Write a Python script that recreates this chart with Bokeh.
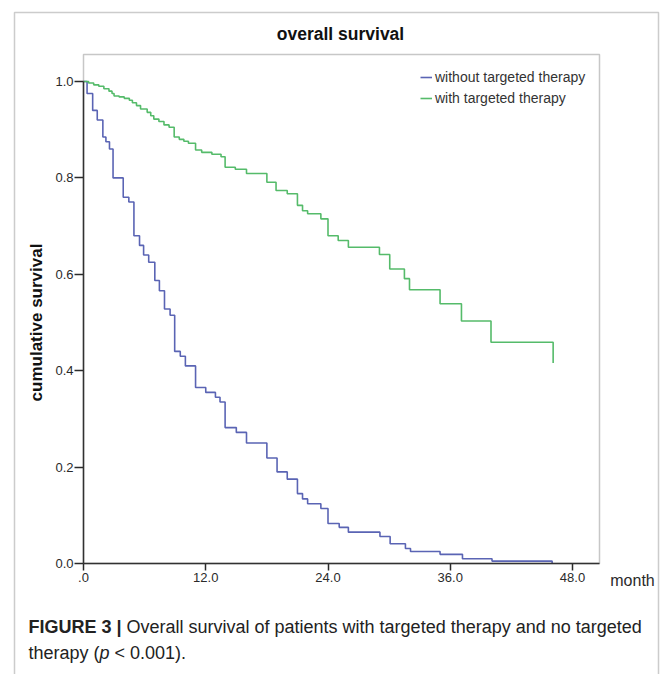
from bokeh.plotting import figure
from bokeh.models import (Label, BoxAnnotation, Legend, LegendItem, FixedTicker, Range1d,
                          PrintfTickFormatter, LinearAxis)
from bokeh.embed import file_html
from bokeh.resources import INLINE

# ---------------- data ----------------
months_without = [0, 0.35, 0.9, 1.35, 1.9, 2.2, 2.55, 2.9, 3.9, 4.45, 4.95, 5.5, 5.9, 6.4, 7.0,
                  7.45, 7.95, 8.5, 8.95, 9.5, 10.0, 11.0, 12.0, 12.95, 13.4, 13.9, 15.0, 16.0,
                  18.0, 19.0, 20.0, 21.0, 21.5, 22.0, 23.3, 24.0, 25.1, 26.0, 29.1, 30.1, 31.6,
                  32.1, 35.0, 37.2, 40.1, 46.0]
surv_without = [1.0, 0.975, 0.94, 0.92, 0.885, 0.875, 0.86, 0.80, 0.76, 0.75, 0.68, 0.66, 0.64,
                0.625, 0.587, 0.566, 0.528, 0.515, 0.44, 0.43, 0.41, 0.365, 0.355, 0.345, 0.335,
                0.282, 0.272, 0.25, 0.219, 0.19, 0.175, 0.145, 0.134, 0.124, 0.114, 0.083, 0.075,
                0.065, 0.056, 0.041, 0.031, 0.025, 0.019, 0.01, 0.005, 0.0]

months_with = [0, 0.5, 1.0, 1.5, 2.0, 2.5, 2.8, 3.0, 3.5, 4.0, 4.5, 4.8, 5.2, 5.6, 6.25, 6.6, 6.9,
               7.4, 7.9, 8.4, 8.9, 9.4, 9.85, 10.3, 11.0, 11.6, 12.6, 13.5, 13.9, 14.9, 16.0,
               18.0, 18.9, 20.0, 21.0, 21.5, 22.0, 23.3, 24.0, 25.0, 26.0, 29.05, 30.06, 31.5,
               32.0, 35.0, 37.1, 40.0, 46.1]
surv_with = [1.0, 0.997, 0.993, 0.99, 0.985, 0.98, 0.975, 0.97, 0.968, 0.965, 0.961, 0.956, 0.95,
             0.943, 0.936, 0.929, 0.922, 0.917, 0.91, 0.905, 0.885, 0.88, 0.876, 0.872, 0.858,
             0.853, 0.849, 0.844, 0.822, 0.818, 0.809, 0.791, 0.774, 0.767, 0.743, 0.732, 0.7255,
             0.715, 0.68, 0.67, 0.656, 0.641, 0.611, 0.591, 0.568, 0.539, 0.503, 0.459, 0.416]

series_labels = ["without targeted therapy", "with targeted therapy"]
x_ticks = [0, 12, 24, 36, 48]
x_tick_labels = [".0", "12.0", "24.0", "36.0", "48.0"]
y_ticks = [0.0, 0.2, 0.4, 0.6, 0.8, 1.0]

title_text = "overall survival"
y_title = "cumulative survival"
x_title = "month"
caption_bold = "FIGURE 3 |"
caption_1 = "Overall survival of patients with targeted therapy and no targeted"
caption_2a = "therapy ("
caption_2b = "p"
caption_2c = "< 0.001)."

# ---------------- layout (pixel geometry of the page) ----------------
W, H = 669, 674
PX0, PX48 = 83, 572          # pixel x of month 0 and month 48
PY0, PY1 = 563, 81           # pixel y of survival 0.0 and 1.0
KX = (PX48 - PX0) / 48.0
KY = (PY0 - PY1) / 1.0
BOX_RIGHT, BOX_TOP = 599, 54
FONT = "Liberation Sans"
BLUE = "#5a64b4"
GREEN = "#55bb6a"
DARK = "#2a2a2a"


def X(px):
    return (px - PX0) / KX


def Y(py):
    return (PY0 - py) / KY


p = figure(width=W, height=H, output_backend="svg", toolbar_location=None,
           x_range=Range1d(X(0), X(W)), y_range=Range1d(Y(H), Y(0)),
           x_axis_type=None, y_axis_type=None, min_border=0)
p.background_fill_color = "white"
p.border_fill_color = "white"
p.outline_line_color = None

r_without = p.step(months_without, surv_without, mode="after", line_color=BLUE, line_width=1.6)
r_with = p.step(months_with, surv_with, mode="after", line_color=GREEN, line_width=1.6)

# axes, pinned at the origin of the chart box
xa = LinearAxis(fixed_location=0, bounds=(0, X(BOX_RIGHT)))
xa.ticker = FixedTicker(ticks=x_ticks)
xa.formatter = PrintfTickFormatter(format="%.1f")
xa.major_label_overrides = {t: l for t, l in zip(x_ticks, x_tick_labels)}
ya = LinearAxis(fixed_location=0, bounds=(0, 1.0))
ya.ticker = FixedTicker(ticks=y_ticks)
ya.formatter = PrintfTickFormatter(format="%.1f")
for ax in (xa, ya):
    ax.minor_tick_line_color = None
    ax.axis_line_color = DARK
    ax.axis_line_width = 1.5
    ax.major_tick_line_color = DARK
    ax.major_tick_line_width = 1.5
    ax.major_tick_in = 0
    ax.major_label_text_font = FONT
    ax.major_label_text_font_size = "13px"
    ax.major_label_text_color = DARK
xa.major_tick_out = 7
xa.major_label_standoff = 2
ya.major_tick_out = 9
ya.major_label_standoff = 1
ya.axis_label = y_title
ya.axis_label_text_font = FONT
ya.axis_label_text_font_style = "bold"
ya.axis_label_text_font_size = "17px"
ya.axis_label_text_color = "#111111"
ya.axis_label_standoff = 6
p.add_layout(xa, "below")
p.add_layout(ya, "left")

# chart box
p.add_layout(BoxAnnotation(left=0, right=X(BOX_RIGHT), bottom=0, top=Y(BOX_TOP),
                           fill_alpha=0, line_color="#444444", line_width=1.5))

# title
p.add_layout(Label(x=X(340), y=Y(33), text=title_text, text_align="center",
                   text_baseline="middle", text_font=FONT, text_font_style="bold",
                   text_font_size="17.5px", text_color="#111111"))
# x title
p.add_layout(Label(x=X(632), y=Y(580), text=x_title, text_align="center",
                   text_baseline="middle", text_font=FONT, text_font_size="16px",
                   text_color=DARK))

# legend
legend = Legend(items=[LegendItem(label=series_labels[0], renderers=[r_without]),
                       LegendItem(label=series_labels[1], renderers=[r_with])],
                location=(420, H - 106), background_fill_alpha=0, border_line_alpha=0,
                padding=0, margin=0, spacing=5, label_height=16, glyph_height=10,
                glyph_width=12, label_standoff=3, label_text_font=FONT,
                label_text_font_size="14px", label_text_color="#333333")
p.add_layout(legend)

# outer frame of the figure panel
p.add_layout(BoxAnnotation(left=X(14), right=X(658), top=Y(12), bottom=Y(720),
                           fill_alpha=0, line_color="#555555", line_width=1.5))

# caption
CAP1, CAP2 = 626, 652
cap_kw = dict(text_baseline="middle", text_font=FONT, text_font_size="18px", text_color="#222222")
p.add_layout(Label(x=X(28), y=Y(CAP1), text=caption_bold, text_font_style="bold", **cap_kw))
p.add_layout(Label(x=X(126), y=Y(CAP1), text=caption_1, **cap_kw))
p.add_layout(Label(x=X(28), y=Y(CAP2), text=caption_2a, **cap_kw))
p.add_layout(Label(x=X(99), y=Y(CAP2), text=caption_2b, text_font_style="italic", **cap_kw))
p.add_layout(Label(x=X(114), y=Y(CAP2), text=caption_2c, **cap_kw))

open("out.html", "w").write(file_html(p, INLINE))
